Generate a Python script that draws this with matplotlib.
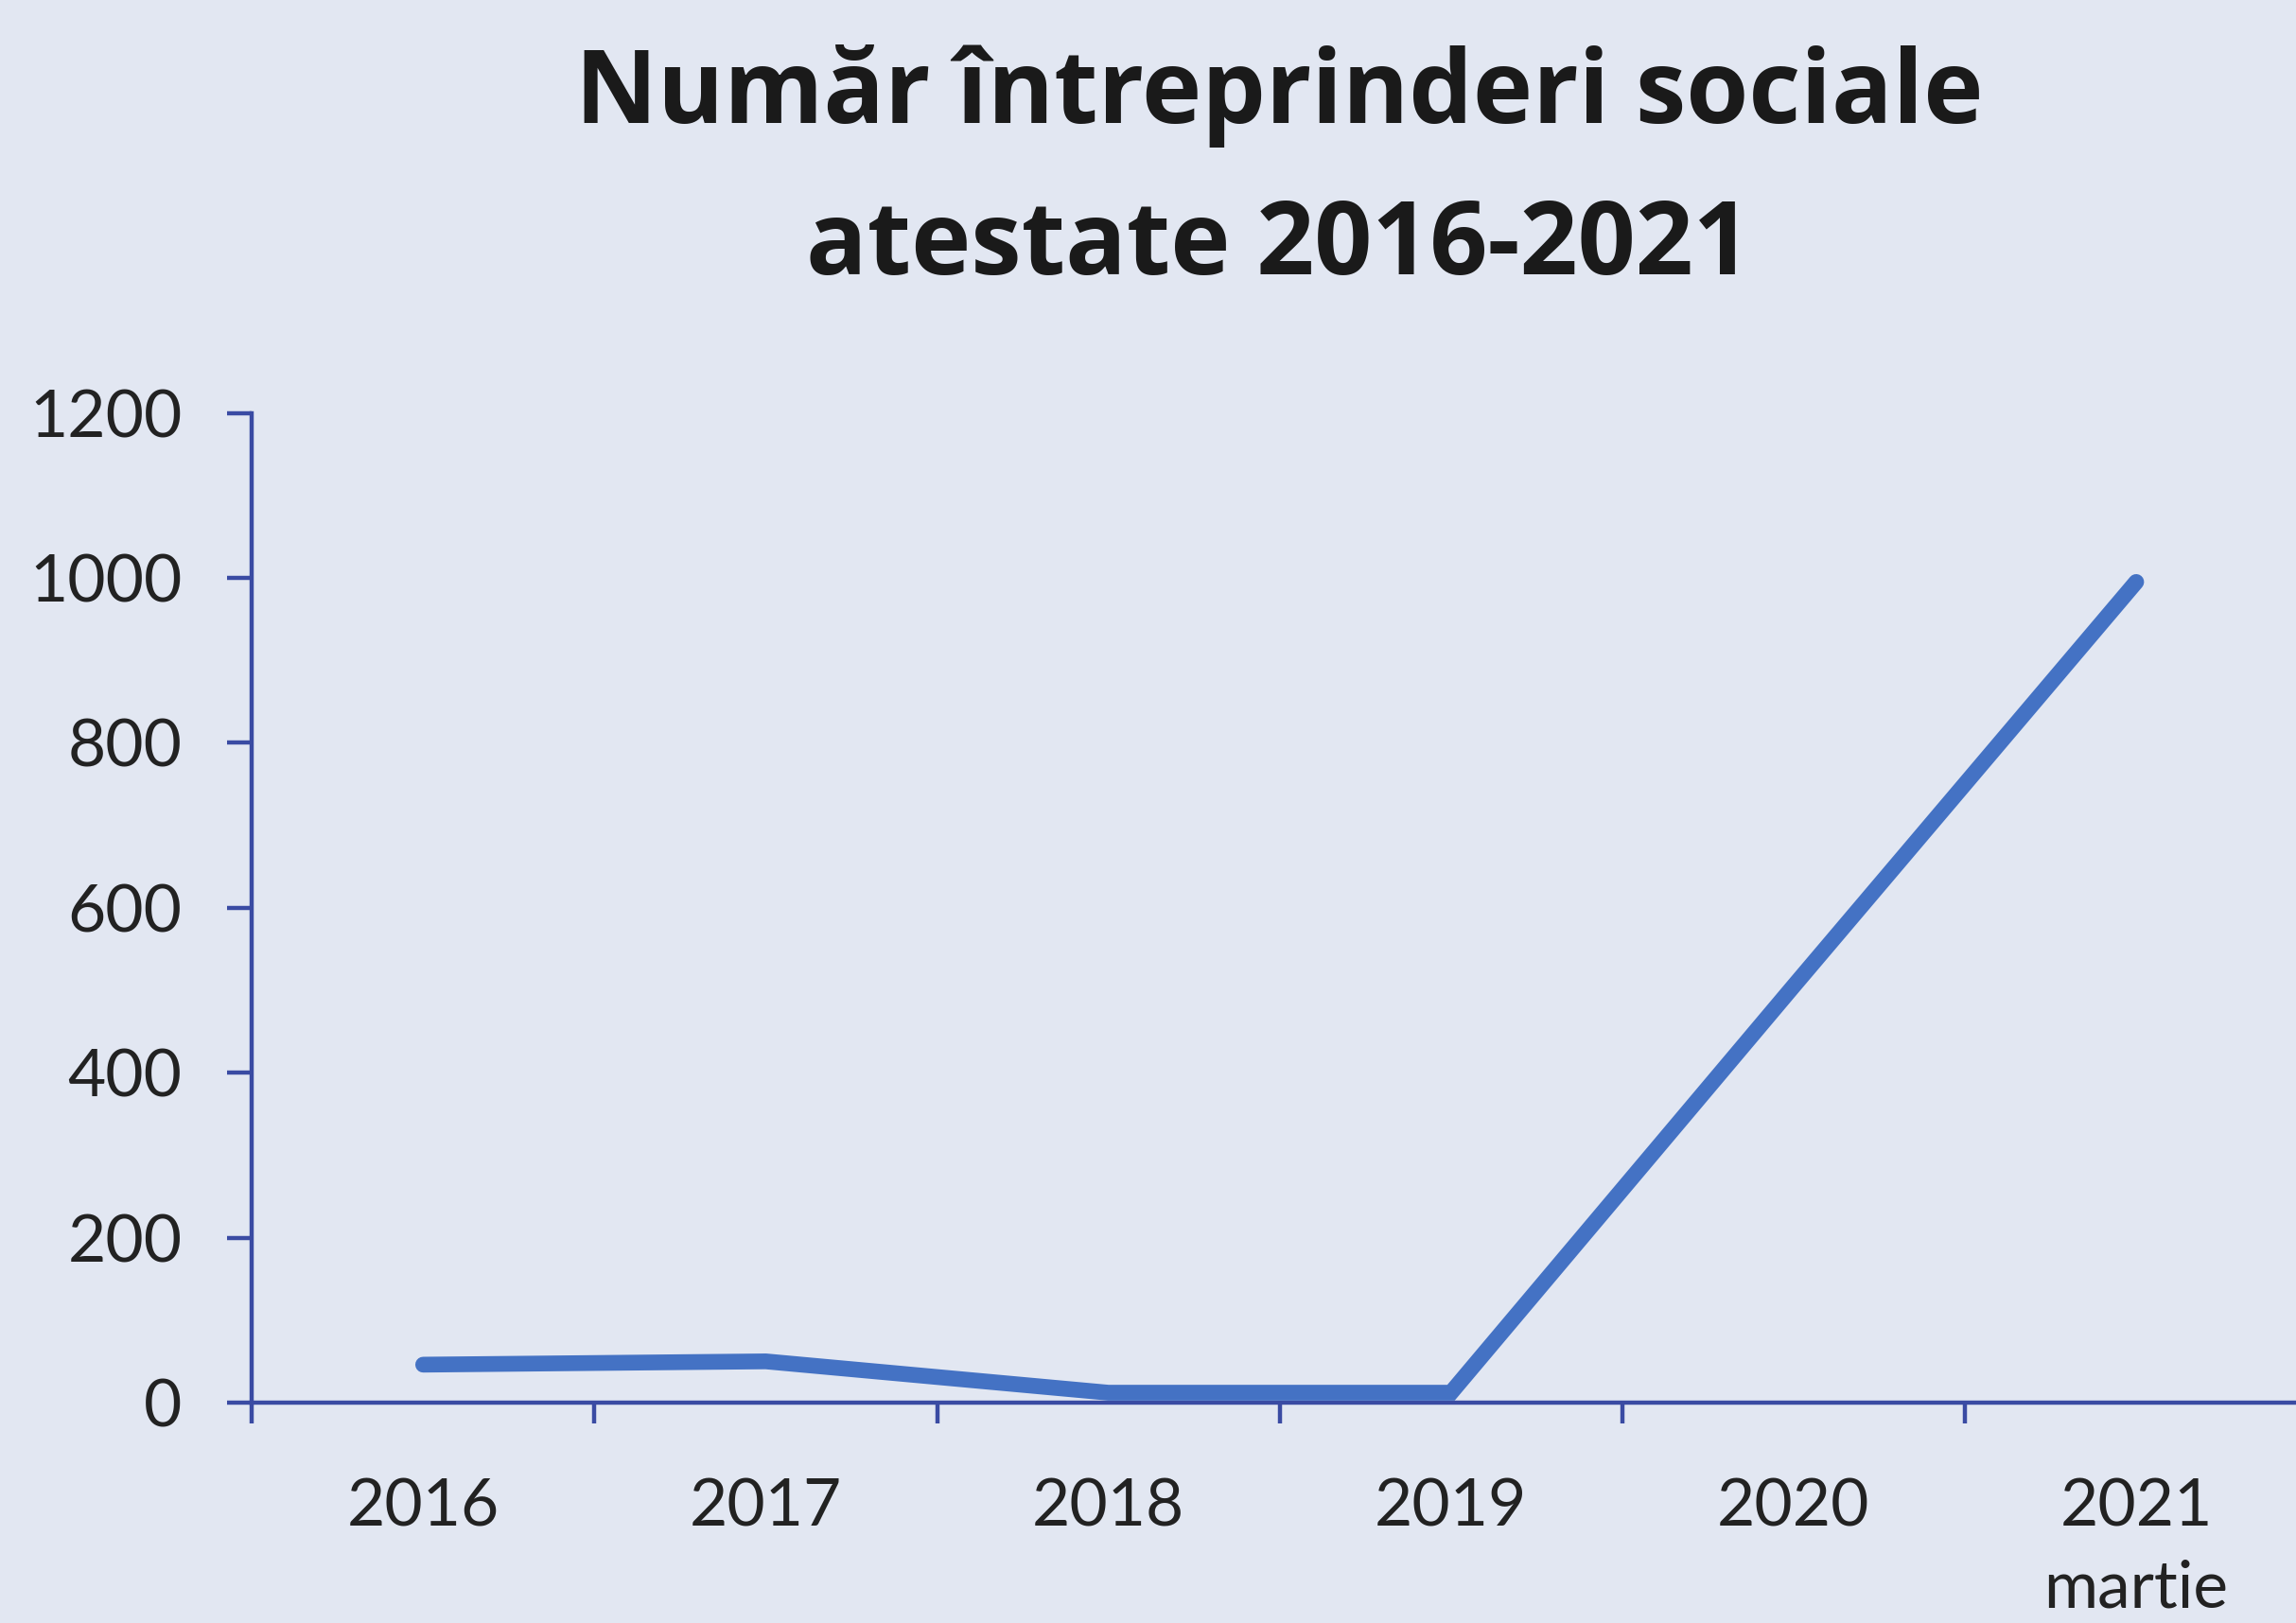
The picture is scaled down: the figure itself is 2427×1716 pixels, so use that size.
import matplotlib
matplotlib.use("Agg")
import matplotlib.pyplot as plt

# data
years = ["2016", "2017", "2018", "2019", "2020", "2021\nmartie"]
counts = [46, 50, 12, 12, 505, 995]
y_ticks = [0, 200, 400, 600, 800, 1000, 1200]

bg = "#E2E7F2"
axis_blue = "#3A4BA3"
line_blue = "#4472C4"

plt.rcParams["font.family"] = ["Lato", "DejaVu Sans"]

fig = plt.figure(figsize=(24.27, 17.16), dpi=100, facecolor=bg)
ax = fig.add_axes([0.1097, 0.1358, 0.8953, 0.6098])
ax.set_facecolor(bg)

x = list(range(len(years)))
ax.plot(x, counts, color=line_blue, lw=12, solid_capstyle="round",
        solid_joinstyle="miter", clip_on=False, zorder=3)

ax.set_xlim(-0.5, len(years) - 0.5)
ax.set_ylim(0, 1200)

# category boundaries get the tick marks, labels sit in the middle
ax.set_xticks([i - 0.5 for i in x])
ax.set_xticklabels([])
ax.set_xticks(x, minor=True)
ax.set_xticklabels(years, minor=True, fontsize=50, color="#222222",
                   linespacing=1.45)
ax.tick_params(axis="x", which="major", length=16, width=3.2,
               color=axis_blue, direction="out")
ax.tick_params(axis="x", which="minor", length=0, pad=57)

ax.set_yticks(y_ticks)
ax.set_yticklabels([str(v) for v in y_ticks], fontsize=50, color="#222222")
ax.tick_params(axis="y", length=19, width=3.2, color=axis_blue, pad=34)

for side in ["top", "right"]:
    ax.spines[side].set_visible(False)
for side in ["left", "bottom"]:
    ax.spines[side].set_color(axis_blue)
    ax.spines[side].set_linewidth(3.2)

title_font = ["Open Sans", "DejaVu Sans"]
fig.text(0.557, 0.924, "Număr întreprinderi sociale", ha="center",
         va="baseline", fontsize=77, fontweight="bold", color="#1a1a1a",
         family=title_font)
fig.text(0.557, 0.831, "atestate 2016-2021", ha="center",
         va="baseline", fontsize=77, fontweight="bold", color="#1a1a1a",
         family=title_font)

fig.savefig("out.png", dpi=100, facecolor=bg)
